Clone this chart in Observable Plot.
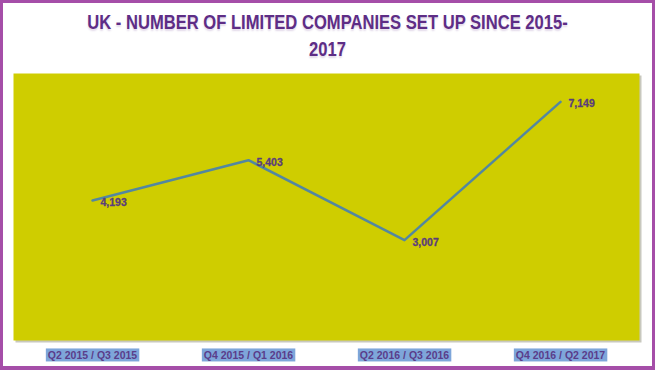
<!DOCTYPE html>
<html>
<head>
<meta charset="utf-8">
<script src="https://cdn.jsdelivr.net/npm/d3@7"></script>
<script src="https://cdn.jsdelivr.net/npm/@observablehq/plot@0.6"></script>
<style>
  html, body { margin: 0; padding: 0; background: #fff; }
  #wrap { position: relative; width: 655px; height: 370px; overflow: hidden; background: #fff; }
  #wrap svg { position: absolute; left: 0; top: 0; }
  #title {
    position: absolute; left: 0; top: 8px; width: 655px; text-align: center;
    font-family: "Liberation Sans", sans-serif; font-weight: bold;
    font-size: 21px; line-height: 27px; color: #5e2d86; z-index: 2;
    transform: scaleX(0.79); transform-origin: 327.5px 0;
    text-shadow: 0 2px 2px rgba(94,45,134,0.18);
  }
  #border {
    position: absolute; left: 0; top: 0; width: 655px; height: 370px; box-sizing: border-box;
    border: 3px solid #a54ea8; border-bottom-width: 4px; pointer-events: none; z-index: 3;
  }
</style>
</head>
<body>
<div id="wrap">
  <div id="title">UK - NUMBER OF LIMITED COMPANIES SET UP SINCE 2015-<br>2017</div>
  <div id="border"></div>
</div>
<script>
const periods = ["Q2 2015 / Q3 2015", "Q4 2015 / Q1 2016", "Q2 2016 / Q3 2016", "Q4 2016 / Q2 2017"];
const companies = [4193, 5403, 3007, 7149];

const data = periods.map((p, i) => ({period: p, value: companies[i]}));

const chart = Plot.plot({
  width: 655,
  height: 370,
  marginTop: 73,
  marginBottom: 30,
  marginLeft: 13,
  marginRight: 16,
  style: {background: "transparent", overflow: "visible"},
  x: {type: "point", domain: periods, padding: 0.5, label: null},
  y: {domain: [0, 8000], axis: null},
  marks: [
    Plot.frame({fill: "#9a9a88", stroke: null, dx: 2, dy: 2, fillOpacity: 0.55}),
    Plot.frame({fill: "#cfcd00", stroke: null}),
    Plot.line(data, {x: "period", y: "value", stroke: "#5387a0", strokeWidth: 2.5}),
    Plot.text(data, {x: "period", y: "value", text: d => d3.format(",")(d.value), textAnchor: "start", dx: 8, dy: 2,
      fill: "#5a3d7c", fontWeight: "bold", fontSize: 10.5, fontFamily: "Liberation Sans, sans-serif",
      stroke: "#5a3d7c", strokeWidth: 0.3}),
    Plot.axisX({tickSize: 0, tickPadding: 11, fontSize: 10.5, fontWeight: "bold", fill: "#5a3d8a",
      fontFamily: "Liberation Sans, sans-serif", label: null})
  ]
});

document.getElementById("wrap").appendChild(chart);

// highlight boxes behind tick labels
chart.querySelectorAll("g[aria-label='x-axis tick label'] text").forEach(t => {
  const b = t.getBBox();
  const r = document.createElementNS("http://www.w3.org/2000/svg", "rect");
  r.setAttribute("x", b.x - 2);
  r.setAttribute("y", b.y - 0.5);
  r.setAttribute("width", b.width + 4);
  r.setAttribute("height", b.height + 1);
  r.setAttribute("fill", "#7ea6da");
  const tr = t.getAttribute("transform");
  if (tr) r.setAttribute("transform", tr);
  t.parentNode.insertBefore(r, t);
});
</script>
</body>
</html>
